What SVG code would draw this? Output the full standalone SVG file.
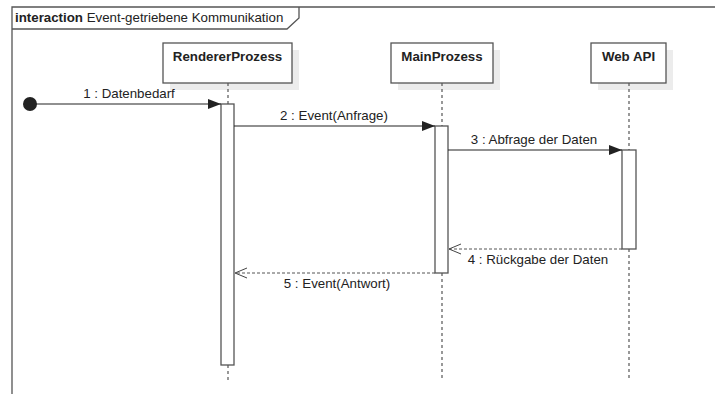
<svg xmlns="http://www.w3.org/2000/svg" width="715" height="394" viewBox="0 0 715 394">
  <style>
    text { font-family: "Liberation Sans", Arial, sans-serif; font-size: 13.3px; fill: #222; }
    .title { font-weight: bold; }
    .head { fill: #fff; stroke: #555; stroke-width: 1.3; }
    .shadow { fill: #ececec; }
    .life { stroke: #555; stroke-width: 1.2; stroke-dasharray: 3 3; fill: none; }
    .act { fill: #fff; stroke: #555; stroke-width: 1.3; }
    .msg { stroke: #222; stroke-width: 1.1; fill: none; }
    .ret { stroke: #555; stroke-width: 1; stroke-dasharray: 3 2; fill: none; }
    .frame { stroke: #555; stroke-width: 1.3; fill: none; }
  </style>
  <defs>
    <marker id="sync" markerWidth="14" markerHeight="10" refX="13" refY="5" orient="auto" markerUnits="userSpaceOnUse">
      <path d="M0,0 L13,5 L0,10 Z" fill="#222"/>
    </marker>
    <marker id="open" markerWidth="14" markerHeight="12" refX="12" refY="6" orient="auto" markerUnits="userSpaceOnUse">
      <path d="M0,1 L12,6 L0,11" fill="none" stroke="#444" stroke-width="1"/>
    </marker>
  </defs>

  <rect width="715" height="394" fill="#fff"/>

  <!-- interaction frame -->
  <g id="frame">
    <path class="frame" d="M12,394 L12,7 L715,7"/>
    <path class="frame" d="M12,29 L287,29 L299,18 L299,7"/>
    <text x="15" y="22"><tspan class="title">interaction</tspan> Event-getriebene Kommunikation</text>
  </g>

  <!-- lifelines -->
  <g id="renderer">
    <rect class="shadow" x="170" y="50" width="129" height="40"/>
    <rect class="head" x="163" y="43" width="129" height="40"/>
    <text class="title" x="227.5" y="61" text-anchor="middle">RendererProzess</text>
    <line class="life" x1="228" y1="83" x2="228" y2="104"/>
    <line class="life" x1="228" y1="365" x2="228" y2="380"/>
    <rect class="act" x="221" y="104" width="13" height="261"/>
  </g>

  <g id="main">
    <rect class="shadow" x="398" y="50" width="102" height="40"/>
    <rect class="head" x="391" y="43" width="102" height="40"/>
    <text class="title" x="442" y="61" text-anchor="middle">MainProzess</text>
    <line class="life" x1="442" y1="83" x2="442" y2="126"/>
    <line class="life" x1="442" y1="273" x2="442" y2="380"/>
    <rect class="act" x="435" y="126" width="13" height="147"/>
  </g>

  <g id="webapi">
    <rect class="shadow" x="598" y="50" width="75" height="40"/>
    <rect class="head" x="591" y="43" width="75" height="40"/>
    <text class="title" x="628.5" y="61" text-anchor="middle">Web API</text>
    <line class="life" x1="629" y1="83" x2="629" y2="150"/>
    <line class="life" x1="629" y1="249" x2="629" y2="380"/>
    <rect class="act" x="622" y="150" width="14" height="99"/>
  </g>

  <g id="start">
    <circle cx="30" cy="104" r="7" fill="#222"/>
  </g>

  <!-- messages -->
  <g id="connectors">
    <line class="msg" x1="30" y1="104" x2="221" y2="104" marker-end="url(#sync)"/>
    <text x="129" y="98" text-anchor="middle">1 : Datenbedarf</text>

    <line class="msg" x1="234" y1="126" x2="435" y2="126" marker-end="url(#sync)"/>
    <text x="334" y="120" text-anchor="middle">2 : Event(Anfrage)</text>

    <line class="msg" x1="448" y1="150" x2="622" y2="150" marker-end="url(#sync)"/>
    <text x="534" y="144" text-anchor="middle">3 : Abfrage der Daten</text>

    <line class="ret" x1="622" y1="249" x2="449" y2="249" marker-end="url(#open)"/>
    <text x="538" y="264" text-anchor="middle">4 : Rückgabe der Daten</text>

    <line class="ret" x1="435" y1="273" x2="235" y2="273" marker-end="url(#open)"/>
    <text x="337" y="288" text-anchor="middle">5 : Event(Antwort)</text>
  </g>
</svg>
